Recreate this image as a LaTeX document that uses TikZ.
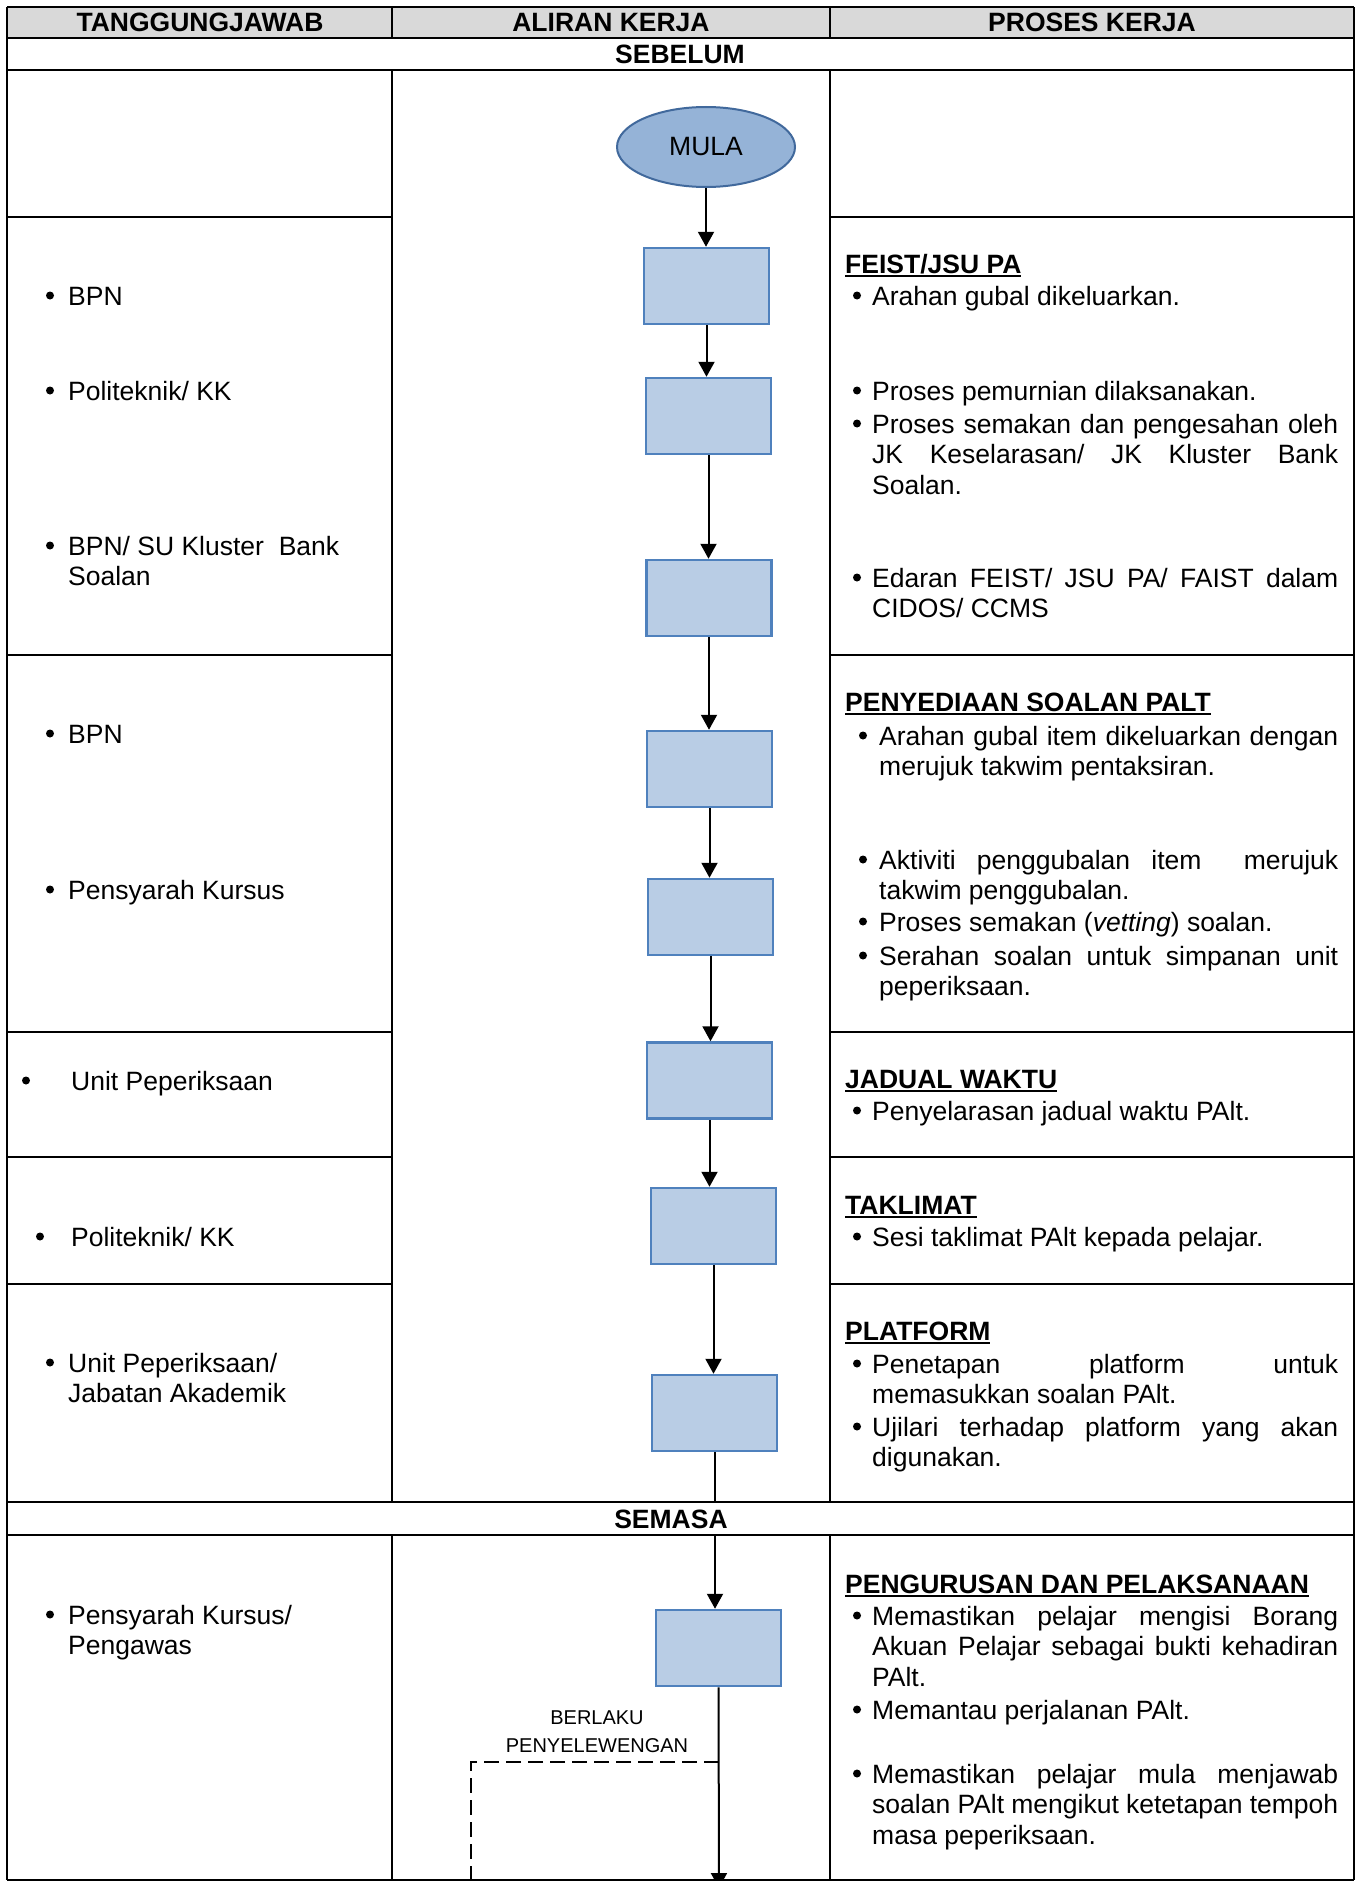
\documentclass[tikz,border=0pt]{standalone}
\usepackage{fontspec}
\usepackage{graphicx}
\setmainfont{Liberation Sans}
\usetikzlibrary{shapes.geometric,arrows.meta}
\definecolor{boxfill}{HTML}{B9CDE5}
\definecolor{boxedge}{HTML}{4F81BD}
\definecolor{ellfill}{HTML}{95B3D7}
\definecolor{elledge}{HTML}{41699C}
\definecolor{hdrgray}{HTML}{D9D9D9}
\newcommand\bodyfont{\fontsize{26.5pt}{30.5pt}\selectfont}
\newcommand\smallfont{\fontsize{20pt}{28pt}\selectfont}
\newcommand\J[2]{\makebox[#1pt][s]{#2}}
\newcommand\hd[1]{\setbox0\hbox{\bfseries #1}\rlap{\rule[-4pt]{\wd0}{2.3pt}}\box0}
\newcommand\PB[2]{\parbox[t]{#1pt}{\bodyfont #2}}
\begin{document}
\begin{tikzpicture}[x=1pt,y=-1pt,
  tline/.style={line width=2pt,black},
  flowbox/.style={draw=boxedge,fill=boxfill,line width=2.5pt,minimum width=125pt,minimum height=76pt,inner sep=0pt},
  startnode/.style={ellipse,draw=elledge,fill=ellfill,line width=2pt,minimum width=178pt,minimum height=80pt,inner sep=0pt,font=\bodyfont},
  flowarrow/.style={line width=2pt,-{Triangle[width=16pt,length=15pt]}},
  flowline/.style={line width=2pt},
  dashline/.style={line width=2pt,dash pattern=on 15pt off 7pt},
  txt/.style={anchor=base west,inner sep=0pt,font=\bodyfont},
  bul/.style={circle,fill=black,inner sep=0pt,minimum size=8pt,yshift=9.5pt},
  hdr/.style={anchor=base,inner sep=0pt,font=\bodyfont\bfseries},
  lbl/.style={anchor=base,inner sep=0pt,font=\smallfont}]
\clip (0,0) rectangle (1360,1881);
\fill[white] (0,0) rectangle (1360,1881);
% ---------- table ----------
\fill[hdrgray] (7,7) rectangle (1354,38);
\draw[tline] (7,7) -- (1354,7);
\draw[tline] (7,38) -- (1354,38);
\draw[tline] (7,70) -- (1354,70);
\draw[tline] (7,1502) -- (1354,1502);
\draw[tline] (7,1535) -- (1354,1535);
\draw[tline] (7,1880) -- (1354,1880);
\draw[tline] (7,7) -- (7,1880);
\draw[tline] (1354,7) -- (1354,1880);
\foreach \cx in {392,830}{
  \draw[tline] (\cx,7) -- (\cx,38);
  \draw[tline] (\cx,70) -- (\cx,1502);
  \draw[tline] (\cx,1535) -- (\cx,1880);
}
\foreach \ry in {217,655,1032,1157,1284}{
  \draw[tline] (7,\ry) -- (392,\ry);
  \draw[tline] (830,\ry) -- (1354,\ry);
}
% ---------- headers ----------
\node[hdr] (h1) at (200,31.5) {TANGGUNGJAWAB};
\node[hdr] (h2) at (611,31.5) {ALIRAN KERJA};
\node[hdr] (h3) at (1092,31.5) {PROSES KERJA};
\node[hdr] (sb) at (680,63.5) {SEBELUM};
\node[hdr] (sm) at (671,1528) {SEMASA};
% ---------- flow ----------
\node[startnode] (m) at (706,147) {MULA};
\node[flowbox] (b1) at (706.5,286) {};
\node[flowbox] (b2) at (708.5,416) {};
\node[flowbox] (b3) at (709,598) {};
\node[flowbox] (b4) at (709.5,769) {};
\node[flowbox] (b5) at (710.5,917) {};
\node[flowbox] (b6) at (709.5,1080.5) {};
\node[flowbox] (b7) at (713.5,1226) {};
\node[flowbox] (b8) at (714.5,1413) {};
\node[flowbox] (b9) at (718.5,1648) {};
\coordinate (s1) at (714.5,1502);
\coordinate (s2) at (715,1535);
\coordinate (bend) at (719,1762);
\coordinate (dcorner) at (471,1762);
\coordinate (dend) at (471,1900);
\coordinate (bot) at (719,1888);
\draw[flowarrow] (m.south) -- (m.south |- b1.north);
\draw[flowarrow] (b1.south) -- (b1.south |- b2.north);
\draw[flowarrow] (b2.south) -- (b2.south |- b3.north);
\draw[flowarrow] (b3.south) -- (b3.south |- b4.north);
\draw[flowarrow] (b4.south) -- (b4.south |- b5.north);
\draw[flowarrow] (b5.south) -- (b5.south |- b6.north);
\draw[flowarrow] (b6.south) -- (b6.south |- b7.north);
\draw[flowarrow] (b7.south) -- (b7.south |- b8.north);
\draw[flowline] (b8.south) -- (s1);
\draw[flowarrow] (s2) -- (s2 |- b9.north);
\draw[flowarrow] (b9.south) -- (bot);
\draw[dashline] (bend) -- (dcorner) -- (dend);
\node[lbl] (lb1) at (597,1724) {BERLAKU};
\node[lbl] (lb2) at (597,1752) {PENYELEWENGAN};
% ---------- left column ----------
\node[bul] (lb01) at (50,305) {};
\node[txt] (lt01) at (68,305) {BPN};
\node[bul] (lb02) at (50,400) {};
\node[txt] (lt02) at (68,400) {Politeknik/ KK};
\node[bul] (lb03) at (50,555) {};
\node[txt] (lt03) at (68,555) {\PB{310}{BPN/ SU Kluster\ \ Bank\\ Soalan}};
\node[bul] (lb04) at (50,743) {};
\node[txt] (lt04) at (68,743) {BPN};
\node[bul] (lb05) at (50,899) {};
\node[txt] (lt05) at (68,899) {Pensyarah Kursus};
\node[bul] (lb06) at (26,1090) {};
\node[txt] (lt06) at (71,1090) {Unit Peperiksaan};
\node[bul] (lb07) at (40,1246) {};
\node[txt] (lt07) at (71,1246) {Politeknik/ KK};
\node[bul] (lb08) at (50,1372) {};
\node[txt] (lt08) at (68,1372) {\PB{310}{Unit Peperiksaan/\\ Jabatan Akademik}};
\node[bul] (lb09) at (50,1624) {};
\node[txt] (lt09) at (68,1624) {\PB{310}{Pensyarah Kursus/\\ Pengawas}};
% ---------- right column ----------
\node[txt] (rh1) at (845,273) {\hd{FEIST/JSU PA}};
\node[bul] (rb01) at (857,305) {};
\node[txt] (rt01) at (872,305) {Arahan gubal dikeluarkan.};
\node[bul] (rb02) at (857,400) {};
\node[txt] (rt02) at (872,400) {Proses pemurnian dilaksanakan.};
\node[bul] (rb03) at (857,433) {};
\node[txt] (rt03) at (872,433) {\PB{466}{\J{466}{Proses semakan dan pengesahan oleh}\\ \J{466}{JK Keselarasan/ JK Kluster Bank}\\ Soalan.}};
\node[bul] (rb04) at (857,587) {};
\node[txt] (rt04) at (872,587) {\PB{466}{\J{466}{Edaran FEIST/ JSU PA/ FAIST dalam}\\ CIDOS/ CCMS}};

\node[txt] (rh2) at (845,711) {\hd{PENYEDIAAN SOALAN PALT}};
\node[bul] (rb05) at (863,745) {};
\node[txt] (rt05) at (879,745) {\PB{459}{\J{459}{Arahan gubal item dikeluarkan dengan}\\ merujuk takwim pentaksiran.}};
\node[bul] (rb06) at (863,869) {};
\node[txt] (rt06) at (879,869) {\PB{459}{\J{459}{Aktiviti penggubalan item\ \ merujuk}\\ takwim penggubalan.}};
\node[bul] (rb07) at (863,931) {};
\node[txt] (rt07) at (879,931) {Proses semakan (\textit{vetting}) soalan.};
\node[bul] (rb08) at (863,965) {};
\node[txt] (rt08) at (879,965) {\PB{459}{\J{459}{Serahan soalan untuk simpanan unit}\\ peperiksaan.}};

\node[txt] (rh3) at (845,1088) {\hd{JADUAL WAKTU}};
\node[bul] (rb09) at (857,1120) {};
\node[txt] (rt09) at (872,1120) {Penyelarasan jadual waktu PAlt.};

\node[txt] (rh4) at (845,1214) {\hd{TAKLIMAT}};
\node[bul] (rb10) at (857,1246) {};
\node[txt] (rt10) at (872,1246) {Sesi taklimat PAlt kepada pelajar.};

\node[txt] (rh5) at (845,1340) {\hd{PLATFORM}};
\node[bul] (rb11) at (857,1373) {};
\node[txt] (rt11) at (872,1373) {\PB{466}{\J{466}{Penetapan platform untuk}\\ memasukkan soalan PAlt.}};
\node[bul] (rb12) at (857,1436) {};
\node[txt] (rt12) at (872,1436) {\PB{466}{\J{466}{Ujilari terhadap platform yang akan}\\ digunakan.}};

\node[txt] (rh6) at (845,1593) {\hd{PENGURUSAN DAN PELAKSANAAN}};
\node[bul] (rb13) at (857,1625) {};
\node[txt] (rt13) at (872,1625) {\PB{466}{\J{466}{Memastikan pelajar mengisi Borang}\\ \J{466}{Akuan Pelajar sebagai bukti kehadiran}\\ PAlt.}};
\node[bul] (rb14) at (857,1719) {};
\node[txt] (rt14) at (872,1719) {Memantau perjalanan PAlt.};
\node[bul] (rb15) at (857,1783) {};
\node[txt] (rt15) at (872,1783) {\PB{466}{\J{466}{Memastikan pelajar mula menjawab}\\ \J{466}{soalan PAlt mengikut ketetapan tempoh}\\ masa peperiksaan.}};
\end{tikzpicture}
\end{document}
